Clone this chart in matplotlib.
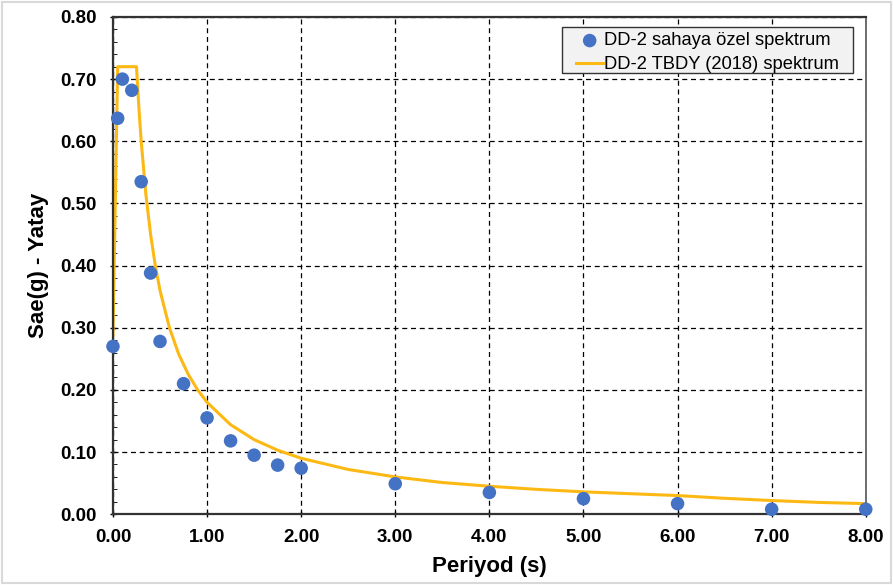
import numpy as np
import matplotlib.pyplot as plt
from matplotlib.ticker import MultipleLocator, FormatStrFormatter
from matplotlib.patches import Rectangle

plt.rcParams['font.family'] = ['Liberation Sans', 'DejaVu Sans']

# DD-2 sahaya özel spektrum (noktalar)
periyot_ozel = [0.0, 0.05, 0.10, 0.20, 0.30, 0.40, 0.50, 0.75, 1.00, 1.25,
                1.50, 1.75, 2.00, 3.00, 4.00, 5.00, 6.00, 7.00, 8.00]
sae_ozel = [0.270, 0.637, 0.700, 0.682, 0.535, 0.388, 0.278, 0.210, 0.155, 0.118,
            0.095, 0.079, 0.074, 0.049, 0.035, 0.025, 0.017, 0.008, 0.008]

# DD-2 TBDY (2018) spektrum (egri)
periyot_tbdy = [0.0, 0.05, 0.25, 0.275, 0.30, 0.35, 0.40, 0.45, 0.50, 0.60, 0.70,
                0.80, 0.90, 1.00, 1.25, 1.50, 1.75, 2.00, 2.50, 3.00, 3.50,
                4.00, 4.50, 5.00, 5.50, 6.00, 6.50, 7.00, 7.50, 8.00]
sae_tbdy = [0.288, 0.720, 0.720, 0.655, 0.600, 0.514, 0.450, 0.400, 0.360, 0.300, 0.257,
            0.225, 0.200, 0.180, 0.144, 0.120, 0.103, 0.090, 0.072, 0.060, 0.051,
            0.045, 0.040, 0.036, 0.033, 0.030, 0.0256, 0.022, 0.019, 0.017]

fig = plt.figure(figsize=(8.93, 5.85), dpi=100)
ax = fig.add_axes([0.1265, 0.121, 0.843, 0.850])

ax.plot(periyot_tbdy, sae_tbdy, color='#FDB913', lw=2.2,
        label='DD-2 TBDY (2018) spektrum', zorder=2)
ax.scatter(periyot_ozel, sae_ozel, s=95, color='#4472C4', edgecolors='none',
           label='DD-2 sahaya özel spektrum', zorder=3, clip_on=False)

ax.set_xlim(0, 8)
ax.set_ylim(0, 0.8)
ax.xaxis.set_major_locator(MultipleLocator(1))
ax.yaxis.set_major_locator(MultipleLocator(0.1))
ax.yaxis.set_minor_locator(MultipleLocator(0.02))
ax.xaxis.set_major_formatter(FormatStrFormatter('%.2f'))
ax.yaxis.set_major_formatter(FormatStrFormatter('%.2f'))
ax.tick_params(axis='both', which='major', labelsize=13.5, length=5, width=1,
               direction='inout')
ax.tick_params(axis='x', which='major', pad=8)
ax.tick_params(axis='y', which='major', pad=9)
ax.tick_params(axis='y', which='minor', length=3, direction='in')
for lbl in ax.get_xticklabels() + ax.get_yticklabels():
    lbl.set_fontweight('bold')

ax.grid(True, which='major', color='black', ls=(0, (4, 3)), lw=0.9)
for s in ['left', 'bottom', 'top']:
    ax.spines[s].set_color('#333333')
    ax.spines[s].set_linewidth(1.6)
ax.spines['right'].set_color('#555555')
ax.spines['right'].set_linewidth(1.2)

ax.set_xlabel('Periyod (s)', fontsize=16, fontweight='bold', labelpad=7)
ax.set_ylabel('Sae(g) - Yatay', fontsize=16, fontweight='bold', labelpad=8)

# lejant kutusu (Excel tarzi, genis yatay bosluk)
ax.add_patch(Rectangle((0.596, 0.887), 0.387, 0.093, transform=ax.transAxes,
                       facecolor='#F2F2F2', edgecolor='#333333', lw=1.0, zorder=4))
handles, labels = ax.get_legend_handles_labels()
leg = ax.legend(handles[::-1], labels[::-1], loc='upper left', fontsize=13.2,
                frameon=False, handlelength=1.5, handletextpad=0.05,
                borderpad=0, labelspacing=0.37, borderaxespad=0,
                bbox_to_anchor=(0.615, 0.969))
leg.set_zorder(5)

fig.patches.append(Rectangle((0.002, 0.003), 0.996, 0.994, transform=fig.transFigure,
                             fill=False, edgecolor='#D9D9D9', lw=1.5))

fig.savefig('out.png', dpi=100)
